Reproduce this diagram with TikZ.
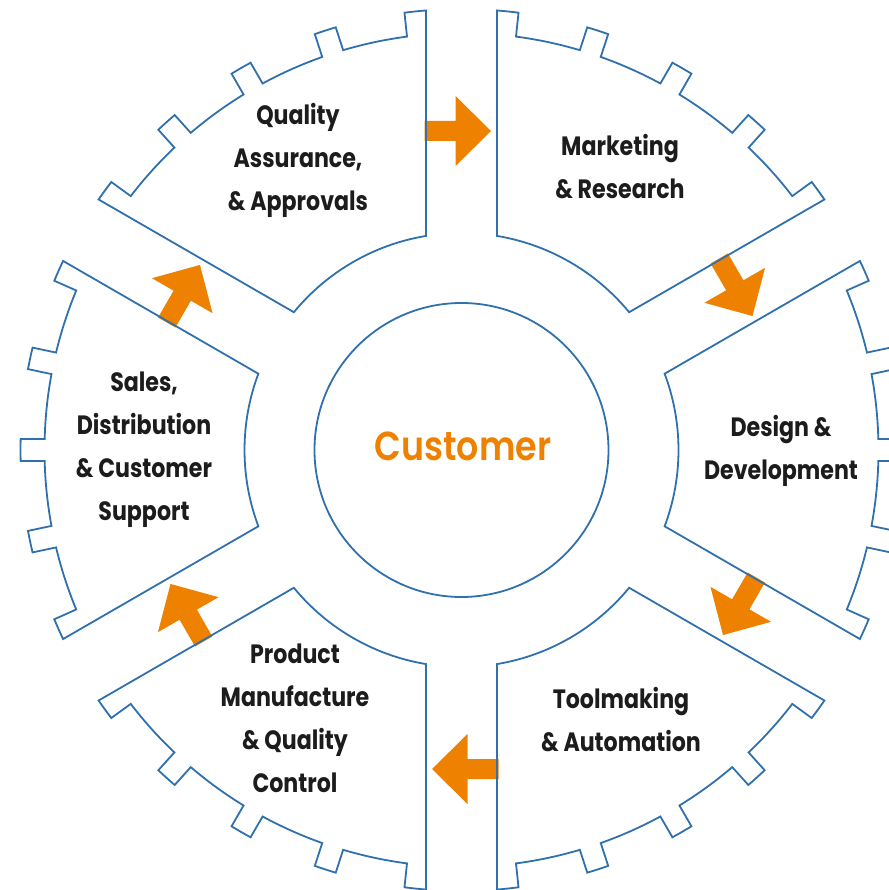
\documentclass[tikz,border=0pt]{standalone}
\usepackage{fontspec}
\newfontfamily\labfont{Poppins Bold}[FakeStretch=0.835]
\newfontfamily\hubfont{Poppins SemiBold}[FakeStretch=0.86]
\definecolor{segblue}{RGB}{48,112,172}
\definecolor{arroworange}{RGB}{238,130,0}
\definecolor{textcol}{RGB}{28,28,28}
\tikzset{
  segline/.style={draw=segblue, line width=1.8pt, line join=miter},
  flowarrow/.style={fill=arroworange, draw=none},
  seglabel/.style={font=\labfont\fontsize{26.5}{43}\selectfont, align=center, text=textcol, inner sep=0pt},
  hublabel/.style={font=\hubfont\fontsize{40.5}{48}\selectfont, text=arroworange, inner sep=0pt}
}
\begin{document}
\begin{tikzpicture}[x=1pt,y=1pt]
\useasboundingbox (-461.5,-440) rectangle (426.5,450);
% arrows in the gaps
\foreach \g in {90,30,-30,-90,-150,150}{
  \fill[flowarrow, rotate=\g-90] (-37,309) -- (-6,309) -- (-6,284) -- (29.5,319) -- (-6,354) -- (-6,329) -- (-37,329) -- cycle;
}
% segments
\foreach \c in {0,60,120,180,240,300}{
  \draw[segline] ({\c-30+9.415}:217) arc[start angle={\c-30+9.415}, end angle={\c+30-9.415}, radius=217]
   -- ({\c+30-4.617}:441) arc[start angle={\c+30-4.617}, end angle={\c+24-1.429}, radius=441]
   -- ({\c+24-1.511}:417) arc[start angle={\c+24-1.511}, end angle={\c+12+1.511}, radius=417]
   -- ({\c+12+1.429}:441) arc[start angle={\c+12+1.429}, end angle={\c+12-1.429}, radius=441]
   -- ({\c+12-1.511}:417) arc[start angle={\c+12-1.511}, end angle={\c+1.511}, radius=417]
   -- ({\c+1.429}:441) arc[start angle={\c+1.429}, end angle={\c-1.429}, radius=441]
   -- ({\c-1.511}:417) arc[start angle={\c-1.511}, end angle={\c-12+1.511}, radius=417]
   -- ({\c-12+1.429}:441) arc[start angle={\c-12+1.429}, end angle={\c-12-1.429}, radius=441]
   -- ({\c-12-1.511}:417) arc[start angle={\c-12-1.511}, end angle={\c-24+1.511}, radius=417]
   -- ({\c-24+1.429}:441) arc[start angle={\c-24+1.429}, end angle={\c-30+4.617}, radius=441]
   -- cycle;
}
% hub
\draw[segline] (0,0) circle[radius=147];
\node[hublabel] (hub) at (1.5,4) {Customer};
% labels
\node[seglabel] (qa) at (-163.5,289.5) {Quality\\Assurance,\\\& Approvals};
\node[seglabel] (mr) at (158.5,283.5) {Marketing\\\& Research};
\node[seglabel] (dd) at (319.5,-1) {Design \&\\Development};
\node[seglabel] (ta) at (159.5,-270) {Toolmaking\\\& Automation};
\node[seglabel] (pm) at (-166.5,-268.5) {Product\\Manufacture\\\& Quality\\Control};
\node[seglabel] (sd) at (-317.5,0) {Sales,\\Distribution\\\& Customer\\Support};
\end{tikzpicture}
\end{document}
